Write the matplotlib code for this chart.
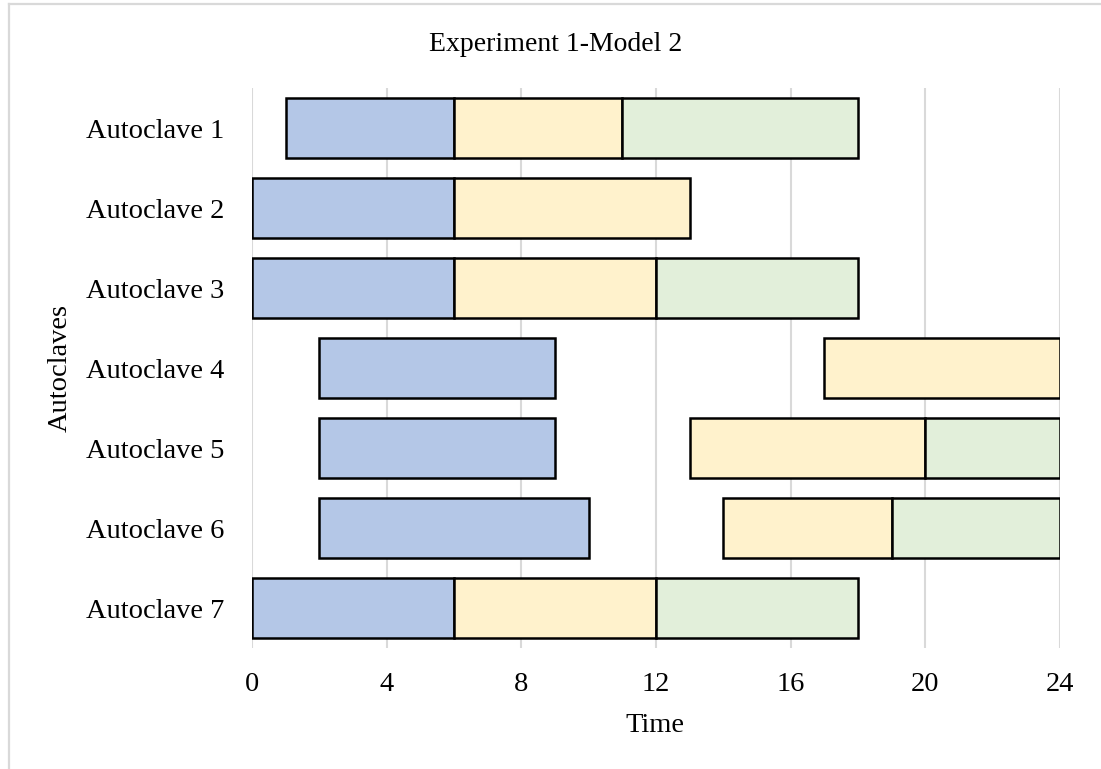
import numpy as np
import matplotlib.pyplot as plt
from matplotlib.lines import Line2D

# -- Schedule data (start/end times per stage) --
autoclaves = ['Autoclave 1', 'Autoclave 2', 'Autoclave 3', 'Autoclave 4',
              'Autoclave 5', 'Autoclave 6', 'Autoclave 7']
stage1_start = [1, 0, 0, 2, 2, 2, 0]
stage1_end = [6, 6, 6, 9, 9, 10, 6]
stage2_start = [6, 6, 6, 17, 13, 14, 6]
stage2_end = [11, 13, 12, 24, 20, 19, 12]
stage3_start = [11, np.nan, 12, np.nan, 20, 19, 12]
stage3_end = [18, np.nan, 18, np.nan, 24, 24, 18]
xticks = [0, 4, 8, 12, 16, 20, 24]

stage_colors = ['#b4c7e7', '#fff2cc', '#e2efda']

plt.rcParams['font.family'] = ['Liberation Serif', 'DejaVu Serif']

fig = plt.figure(figsize=(11.01, 7.69), dpi=100)
ax = fig.add_axes([252/1101, 1 - 648/769, 808/1101, 560/769])

y = np.arange(len(autoclaves))
stages = [(stage1_start, stage1_end), (stage2_start, stage2_end), (stage3_start, stage3_end)]
for (s, e), c in zip(stages, stage_colors):
    s = np.array(s, dtype=float)
    e = np.array(e, dtype=float)
    ok = ~np.isnan(s)
    ax.barh(y[ok], e[ok] - s[ok], left=s[ok], height=0.75, color=c,
            edgecolor='black', linewidth=1.8, zorder=3)

ax.set_xlim(0, 24)
ax.set_ylim(len(autoclaves) - 0.5, -0.5)
ax.set_xticks(xticks)
ax.set_yticks(y)
ax.set_yticklabels(autoclaves)
ax.tick_params(axis='both', length=0, labelsize=20.5)
ax.tick_params(axis='x', pad=17)
ax.tick_params(axis='y', pad=20)
ax.grid(axis='x', color='#d9d9d9', linewidth=1.5, zorder=0)
for sp in ax.spines.values():
    sp.set_visible(False)

# -- Labels --
fig.text(556/1101, 1 - 51/769, 'Experiment 1-Model 2', ha='center', va='baseline', fontsize=20)
fig.text(655/1101, 1 - 732/769, 'Time', ha='center', va='baseline', fontsize=20.5)
fig.text(60/1101, 1 - 368/769, 'Autoclaves', ha='center', va='center', rotation=90, fontsize=20.5)

# -- Chart border (left and top edges) --
fig.add_artist(Line2D([9/1101, 9/1101], [0, 1 - 4/769], color='#d9d9d9', linewidth=1.6))
fig.add_artist(Line2D([9/1101, 1], [1 - 4/769, 1 - 4/769], color='#d9d9d9', linewidth=1.6))

fig.savefig('out.png', dpi=100)
